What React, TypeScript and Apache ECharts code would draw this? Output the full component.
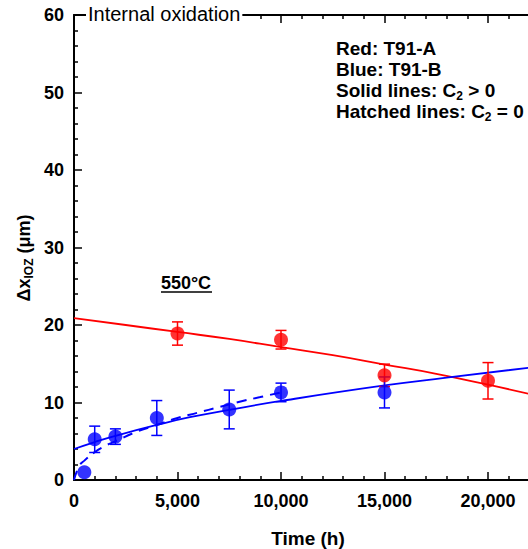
import React, { useEffect, useRef } from "react";
import * as echarts from "echarts";

// Measured data (Time in h, Δx_IOZ in µm)
const redT = [5000, 10000, 15000, 20000];
const redY = [18.9, 18.1, 13.5, 12.8];
const redErr = [1.5, 1.2, 1.45, 2.35];

const blueT = [500, 1000, 2000, 4000, 7500, 10000, 15000];
const blueY = [1.0, 5.25, 5.6, 8.0, 9.1, 11.3, 11.3];
const blueErr = [0, 1.7, 1.0, 2.25, 2.5, 1.2, 2.0];

// Fitted curves
const redFitT = [0, 2500, 5000, 7500, 10000, 12500, 15000, 17500, 20000, 22000];
const redFitY = [20.9, 20.0, 19.1, 18.2, 17.15, 16.1, 14.9, 13.7, 12.3, 11.1];

const blueFitT = [0, 1000, 2000, 4000, 5600, 7500, 10000, 15000, 18000, 22000];
const blueFitY = [4.0, 4.9, 5.7, 7.1, 8.1, 9.05, 10.2, 12.2, 13.2, 14.5];

const blueDashT = [0, 250, 500, 1000, 1500, 2000, 3000, 4000, 5000, 6000, 7000, 8000, 9000, 10000];
const blueDashY = [0, 1.8, 2.5, 3.6, 4.4, 5.0, 6.2, 7.1, 8.0, 8.7, 9.4, 10.1, 10.7, 11.3];

const yTicks = [0, 10, 20, 30, 40, 50, 60];
const xLabelTicks = [0, 5000, 10000, 15000, 20000];

const RED = "#ff0000";
const BLUE = "#0000ff";
const FONT = "Liberation Sans, Arial, sans-serif";

const zip = (a: number[], b: number[]) => a.map((v, i) => [v, b[i]]);
const zip3 = (a: number[], b: number[], c: number[]) => a.map((v, i) => [v, b[i], c[i]]);

function errRender(color: string) {
  return (params: any, api: any) => {
    const x = api.value(0);
    const y = api.value(1);
    const e = api.value(2);
    if (!e) return { type: "group", children: [] };
    const top = api.coord([x, y + e]);
    const bot = api.coord([x, y - e]);
    const w = 5.5;
    const style = { stroke: color, lineWidth: 1.5 };
    return {
      type: "group",
      children: [
        { type: "line", shape: { x1: top[0], y1: top[1], x2: bot[0], y2: bot[1] }, style },
        { type: "line", shape: { x1: top[0] - w, y1: top[1], x2: top[0] + w, y2: top[1] }, style },
        { type: "line", shape: { x1: bot[0] - w, y1: bot[1], x2: bot[0] + w, y2: bot[1] }, style },
      ],
    };
  };
}

export default function App() {
  const ref = useRef<HTMLDivElement>(null);
  useEffect(() => {
    document.body.style.margin = "0";
    const chart = echarts.init(ref.current!, null, { renderer: "svg" });
    const axisLine = { show: true, lineStyle: { color: "#000", width: 2 } };
    const tick = { show: true, inside: true, length: 8, lineStyle: { color: "#000", width: 1.5 } };
    const minor = { show: true, splitNumber: 5, length: 4, lineStyle: { color: "#000", width: 1.5 } };
    const xFmt = (v: number) => (xLabelTicks.includes(v) ? v.toLocaleString("en-US") : "");
    const legendRich = {
      b: { fontFamily: FONT, fontWeight: "bold", fontSize: 19, lineHeight: 22, fill: "#000" },
      s: { fontFamily: FONT, fontWeight: "bold", fontSize: 12, lineHeight: 12, verticalAlign: "bottom", fill: "#000" },
    };
    const legendLines = [
      "{b|Red: T91-A}",
      "{b|Blue: T91-B}",
      "{b|Solid lines: C}{s|2}{b| > 0}",
      "{b|Hatched lines: C}{s|2}{b| = 0}",
    ];
    chart.setOption({
      animation: false,
      backgroundColor: "#fff",
      grid: {
        left: 74,
        top: 15,
        width: 517.5,
        height: 465,
        containLabel: false,
        outerBoundsMode: "none",
      },
      xAxis: [
        {
          type: "value",
          min: 0,
          max: 25000,
          interval: 5000,
          axisLine,
          axisTick: tick,
          minorTick: minor,
          splitLine: { show: false },
          axisLabel: {
            formatter: xFmt,
            fontFamily: FONT,
            fontWeight: "bold",
            fontSize: 18,
            color: "#000",
            margin: 12,
            showMaxLabel: false,
          },
        },
        {
          type: "value",
          position: "top",
          min: 0,
          max: 25000,
          interval: 5000,
          axisLine,
          axisTick: tick,
          minorTick: minor,
          splitLine: { show: false },
          axisLabel: { show: false },
        },
      ],
      yAxis: {
        type: "value",
        min: yTicks[0],
        max: yTicks[yTicks.length - 1],
        interval: 10,
        axisLine,
        axisTick: tick,
        minorTick: minor,
        splitLine: { show: false },
        axisLabel: {
          fontFamily: FONT,
          fontWeight: "bold",
          fontSize: 18,
          color: "#000",
          margin: 10,
        },
      },
      series: [
        {
          type: "line",
          data: zip(redFitT, redFitY),
          smooth: true,
          showSymbol: false,
          lineStyle: { color: RED, width: 1.8 },
          z: 2,
        },
        {
          type: "line",
          data: zip(blueFitT, blueFitY),
          smooth: true,
          showSymbol: false,
          lineStyle: { color: BLUE, width: 1.8 },
          z: 2,
        },
        {
          type: "line",
          data: zip(blueDashT, blueDashY),
          smooth: true,
          showSymbol: false,
          lineStyle: { color: BLUE, width: 2, type: [10, 7] },
          z: 2,
        },
        {
          type: "custom",
          data: zip3(redT, redY, redErr),
          renderItem: errRender(RED),
          z: 3,
        },
        {
          type: "custom",
          data: zip3(blueT, blueY, blueErr),
          renderItem: errRender(BLUE),
          z: 3,
        },
        {
          type: "scatter",
          data: zip(redT, redY),
          symbol: "circle",
          symbolSize: 14,
          itemStyle: { color: RED },
          z: 4,
        },
        {
          type: "scatter",
          data: zip(blueT, blueY),
          symbol: "circle",
          symbolSize: 14,
          itemStyle: { color: BLUE },
          z: 4,
        },
      ],
      graphic: [
        {
          type: "text",
          x: 86,
          y: 14,
          z: 10,
          style: {
            text: "Internal oxidation",
            fontFamily: FONT,
            fontSize: 20,
            fill: "#000",
            backgroundColor: "#fff",
            padding: [0, 2],
            align: "left",
            verticalAlign: "middle",
          },
        },
        ...legendLines.map((t, i) => ({
          type: "text",
          x: 336,
          y: 48 + i * 21.3,
          z: 10,
          style: { text: t, rich: legendRich, align: "left", verticalAlign: "middle" },
        })),
        {
          type: "text",
          x: 186,
          y: 283,
          z: 10,
          style: {
            text: "550°C",
            fontFamily: FONT,
            fontWeight: "bold",
            fontSize: 18,
            fill: "#000",
            align: "center",
            verticalAlign: "middle",
          },
        },
        {
          type: "line",
          z: 10,
          shape: { x1: 161, y1: 292, x2: 212, y2: 292 },
          style: { stroke: "#000", lineWidth: 1.5 },
        },
        {
          type: "text",
          x: 308,
          y: 538,
          z: 10,
          style: {
            text: "Time (h)",
            fontFamily: FONT,
            fontWeight: "bold",
            fontSize: 19,
            fill: "#000",
            align: "center",
            verticalAlign: "middle",
          },
        },
        {
          type: "text",
          x: 24,
          y: 258,
          rotation: Math.PI / 2,
          z: 10,
          style: {
            text: "{b|Δx}{s|IOZ}{b| (μm)}",
            align: "center",
            verticalAlign: "middle",
            rich: {
              b: { fontFamily: FONT, fontWeight: "bold", fontSize: 18, lineHeight: 22, fill: "#000" },
              s: { fontFamily: FONT, fontWeight: "bold", fontSize: 12, lineHeight: 12, verticalAlign: "bottom", fill: "#000" },
            },
          },
        },
      ],
    });
    return () => chart.dispose();
  }, []);
  return <div ref={ref} style={{ width: 528, height: 549 }} />;
}
